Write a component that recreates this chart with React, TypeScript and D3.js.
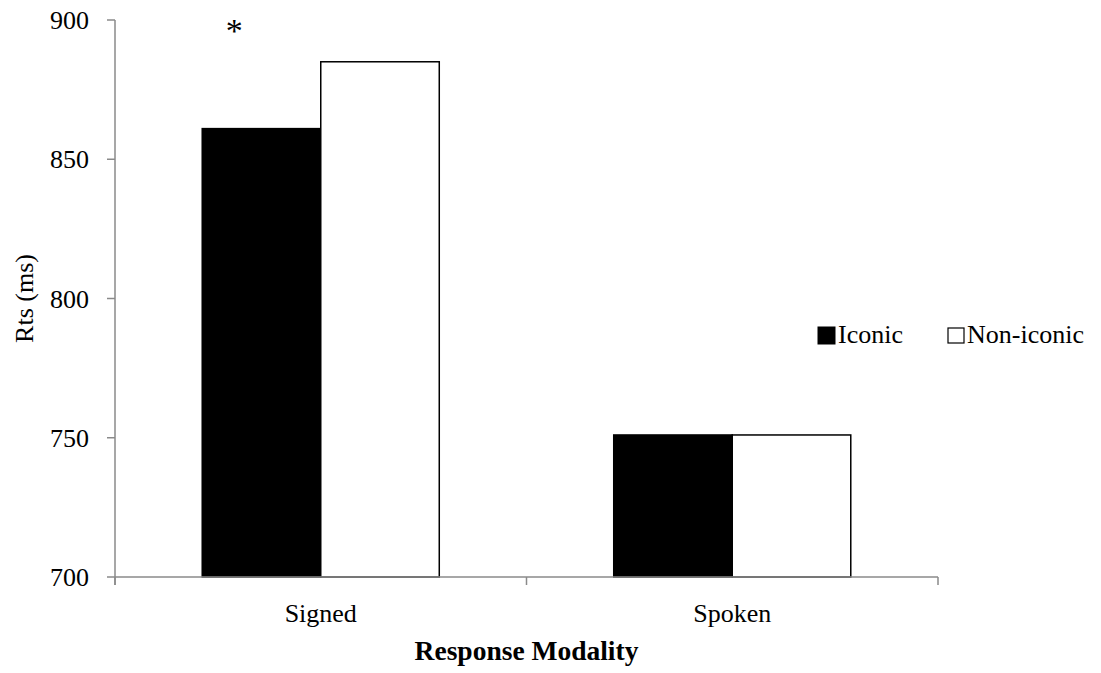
import React from "react";
import * as d3 from "d3";

const categories = ["Signed", "Spoken"];
const seriesNames = ["Iconic", "Non-iconic"];
const iconicValues = [861, 751];
const nonIconicValues = [885, 751];
const yTicks = [700, 750, 800, 850, 900];
const yLabel = "Rts (ms)";
const xLabel = "Response Modality";
const significance = ["*", ""];

const W = 1101;
const H = 673;
const margin = { left: 115, right: 163, top: 20, bottom: 96 };
const FONT = "'Liberation Serif', 'Times New Roman', serif";
const AXIS = "#8a8a8a";

export default function App() {
  const x0 = d3
    .scaleBand<string>()
    .domain(categories)
    .range([margin.left, W - margin.right])
    .paddingInner(0)
    .paddingOuter(0);
  const inner = d3
    .scaleBand<string>()
    .domain(seriesNames)
    .range([0, x0.bandwidth()])
    .paddingInner(0)
    .paddingOuter(0.736);
  const y = d3.scaleLinear().domain([700, 900]).range([H - margin.bottom, margin.top]);
  const fills = ["#000000", "#ffffff"];
  const values = [iconicValues, nonIconicValues];
  const y0 = y(700);
  const xL = margin.left;
  const xR = W - margin.right;

  const boundaries = [xL, ...categories.map((c) => (x0(c) as number) + x0.bandwidth())];

  return (
    <svg width={W} height={H} style={{ position: "absolute", left: 0, top: 0, background: "#fff" }}>
      {/* bars */}
      {categories.map((c, ci) =>
        seriesNames.map((s, si) => {
          const bx = (x0(c) as number) + (inner(s) as number);
          const v = values[si][ci];
          return (
            <rect
              key={c + s}
              x={bx}
              y={y(v)}
              width={inner.bandwidth()}
              height={y0 - y(v)}
              fill={fills[si]}
              stroke="#000"
              strokeWidth={1.5}
            />
          );
        })
      )}
      {/* y axis */}
      <line x1={xL} x2={xL} y1={y(900)} y2={y0 + 8} stroke={AXIS} strokeWidth={1.5} />
      {yTicks.map((t) => (
        <g key={t}>
          <line x1={xL - 8} x2={xL} y1={y(t)} y2={y(t)} stroke={AXIS} strokeWidth={1.5} />
          <text x={xL - 26} y={y(t)} dy="0.35em" textAnchor="end" fontFamily={FONT} fontSize={26} fill="#000">
            {t}
          </text>
        </g>
      ))}
      {/* x axis */}
      <line x1={xL} x2={xR} y1={y0} y2={y0} stroke={AXIS} strokeWidth={1.5} />
      {boundaries.map((b, i) => (
        <line key={i} x1={b} x2={b} y1={y0} y2={y0 + 8} stroke={AXIS} strokeWidth={1.5} />
      ))}
      {categories.map((c) => (
        <text
          key={c}
          x={(x0(c) as number) + x0.bandwidth() / 2}
          y={622}
          textAnchor="middle"
          fontFamily={FONT}
          fontSize={26}
          fill="#000"
        >
          {c}
        </text>
      ))}
      {/* significance */}
      {categories.map((c, ci) =>
        significance[ci] ? (
          <text
            key={"sig" + c}
            x={(x0(c) as number) + (inner(seriesNames[0]) as number) + 32}
            y={y(900) + 22}
            textAnchor="middle"
            fontFamily={FONT}
            fontSize={34}
            fill="#000"
          >
            {significance[ci]}
          </text>
        ) : null
      )}
      {/* axis titles */}
      <text
        transform={`translate(33, ${(y(900) + y0) / 2}) rotate(-90)`}
        textAnchor="middle"
        fontFamily={FONT}
        fontSize={26}
        fill="#000"
      >
        {yLabel}
      </text>
      <text x={(xL + xR) / 2} y={660} textAnchor="middle" fontFamily={FONT} fontSize={27.5} fontWeight="bold" fill="#000">
        {xLabel}
      </text>
      {/* legend */}
      <g>
        <rect x={818} y={327} width={17} height={17} fill="#000" stroke="#000" strokeWidth={1} />
        <text x={838} y={343} fontFamily={FONT} fontSize={26} fill="#000">
          {seriesNames[0]}
        </text>
        <rect x={948} y={328} width={16} height={15} fill="#fff" stroke="#000" strokeWidth={1.2} />
        <text x={967} y={343} fontFamily={FONT} fontSize={26} fill="#000">
          {seriesNames[1]}
        </text>
      </g>
    </svg>
  );
}
